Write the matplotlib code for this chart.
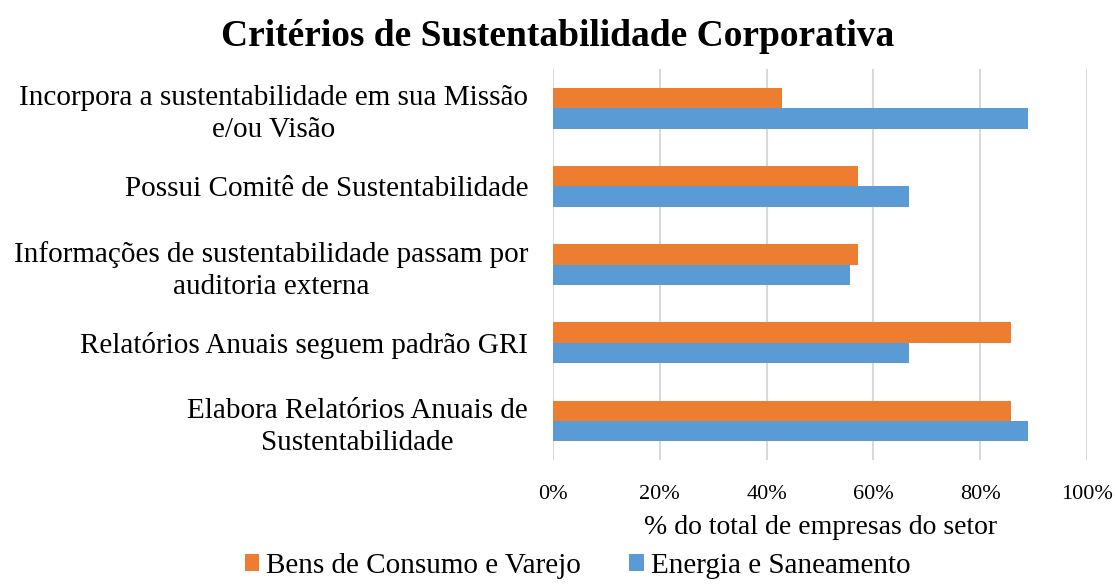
import numpy as np
import matplotlib.pyplot as plt
import matplotlib.ticker as ticker

plt.rcParams["font.family"] = ["Liberation Serif", "DejaVu Serif"]

categories = [
    "Incorpora a sustentabilidade em sua Missão\ne/ou Visão",
    "Possui Comitê de Sustentabilidade",
    "Informações de sustentabilidade passam por\nauditoria externa",
    "Relatórios Anuais seguem padrão GRI",
    "Elabora Relatórios Anuais de\nSustentabilidade",
]
bens_consumo = [0.429, 0.571, 0.571, 0.857, 0.857]
energia = [0.889, 0.667, 0.556, 0.667, 0.889]
series_names = ["Bens de Consumo e Varejo", "Energia e Saneamento"]
x_ticks = [0, 0.2, 0.4, 0.6, 0.8, 1.0]

ORANGE = "#ed7d31"
BLUE = "#5b9bd5"

fig = plt.figure(figsize=(11.15, 5.85), dpi=100)
ax = fig.add_axes([0.496, 0.2137, 0.479, 0.668])

y = np.arange(len(categories))
h = 0.26
ax.barh(y - h / 2, bens_consumo, height=h, color=ORANGE, label=series_names[0], zorder=3)
ax.barh(y + h / 2, energia, height=h, color=BLUE, label=series_names[1], zorder=3)

ax.set_ylim(len(categories) - 0.5, -0.5)
ax.set_xlim(0, 1.0)
ax.set_yticks(y)
ax.set_yticklabels(categories, fontsize=21, ha="right", multialignment="center",
                   linespacing=1.3)
ax.set_xticks(x_ticks)
ax.xaxis.set_major_formatter(ticker.FuncFormatter(lambda v, pos: f"{v * 100:.0f}%"))
ax.tick_params(axis="x", labelsize=16, length=0, pad=18)
ax.tick_params(axis="y", length=0, pad=18)

ax.grid(axis="x", color="#d9d9d9", linewidth=1.5, zorder=0)
for s in ax.spines.values():
    s.set_visible(False)

ax.set_xlabel("% do total de empresas do setor", fontsize=20, labelpad=8)

fig.text(0.5, 1 - 37 / 585, "Critérios de Sustentabilidade Corporativa", fontsize=27,
         fontweight="bold", ha="center", va="center")

fig.legend(loc="center", bbox_to_anchor=(0.518, 0.033), ncol=2, frameon=False,
           fontsize=21, handlelength=0.5, handleheight=0.5, handletextpad=0.24,
           columnspacing=1.65, borderpad=0)

fig.savefig("out.png", dpi=100)
